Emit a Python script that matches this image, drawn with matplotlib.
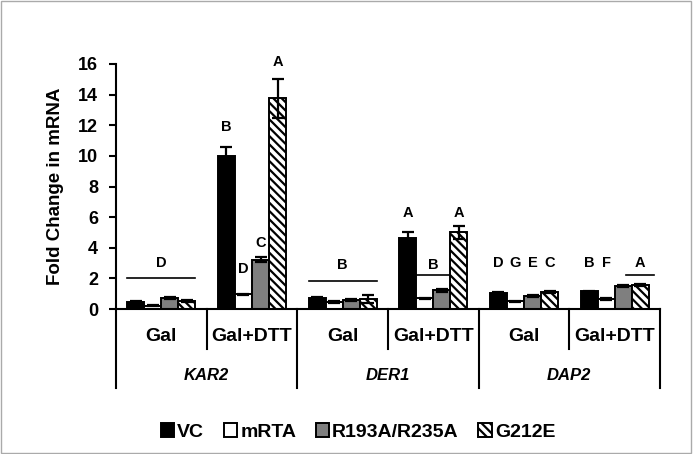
import matplotlib
matplotlib.use("Agg")
import matplotlib.pyplot as plt
import numpy as np
from matplotlib.patches import Rectangle

plt.rcParams['font.family'] = ['Liberation Sans', 'DejaVu Sans']
plt.rcParams['font.weight'] = 'bold'
plt.rcParams['hatch.linewidth'] = 1.6

conditions = ["Gal", "Gal+DTT", "Gal", "Gal+DTT", "Gal", "Gal+DTT"]
genes = ["KAR2", "DER1", "DAP2"]
series = ["VC", "mRTA", "R193A/R235A", "G212E"]

vc = [0.45, 10.0, 0.75, 4.62, 1.05, 1.15]
mrta = [0.22, 0.95, 0.45, 0.70, 0.50, 0.65]
r193a = [0.70, 3.22, 0.60, 1.22, 0.85, 1.50]
g212e = [0.50, 13.75, 0.65, 5.0, 1.12, 1.58]

vc_err = [0.05, 0.6, 0.05, 0.42, 0.04, 0.04]
mrta_err = [0.03, 0.05, 0.04, 0.05, 0.04, 0.04]
r193a_err = [0.06, 0.15, 0.05, 0.08, 0.05, 0.05]
g212e_err = [0.06, 1.3, 0.25, 0.45, 0.08, 0.05]

# significance letters: (category index, series index, text, y)
letters_single = [
    (1, 0, "B", 11.9), (1, 1, "D", 2.6), (1, 2, "C", 4.3), (1, 3, "A", 16.1),
    (3, 0, "A", 6.3), (3, 3, "A", 6.3),
    (4, 0, "D", 3.0), (4, 1, "G", 3.0), (4, 2, "E", 3.0), (4, 3, "C", 3.0),
    (5, 0, "B", 3.0), (5, 1, "F", 3.0),
]
# grouped letters with a line: (category, first series, last series, text, line y, text y)
letters_group = [
    (0, 0, 3, "D", 2.0, 3.0),
    (2, 0, 3, "B", 1.85, 2.9),
    (3, 1, 2, "B", 2.2, 2.85),
    (5, 3, 3, "A", 2.25, 3.0),
]

fig = plt.figure(figsize=(6.93, 4.54), dpi=100)
ax = fig.add_axes([116/693, 1-309/454, 544/693, 245/454])

x = np.arange(len(conditions))
w = 0.188
offs = np.array([-1.5, -0.5, 0.5, 1.5]) * w
vals = [vc, mrta, r193a, g212e]
errs = [vc_err, mrta_err, r193a_err, g212e_err]
faces = ["black", "white", "#7f7f7f", "white"]
hatches = [None, None, None, "\\\\\\\\"]

for i in range(4):
    ax.bar(x + offs[i], vals[i], w, color=faces[i], edgecolor="black",
           linewidth=1.4, hatch=hatches[i], label=series[i], zorder=2)
    ax.errorbar(x + offs[i], vals[i], yerr=errs[i], fmt="none", ecolor="black",
                elinewidth=1.6, capsize=4, capthick=1.6, zorder=3)

for ci, si, t, yv in letters_single:
    ax.text(x[ci] + offs[si], yv, t, ha="center", va="center", fontsize=10.5,
            fontweight="bold")
for ci, s0, s1, t, ly, ty in letters_group:
    x0 = x[ci] + offs[s0] - w / 2
    x1 = x[ci] + offs[s1] + w / 2
    if s0 == s1:
        x0 -= 0.06
        x1 += 0.06
    ax.plot([x0, x1], [ly, ly], color="black", lw=1.2, zorder=3)
    ax.text((x0 + x1) / 2, ty, t, ha="center", va="center", fontsize=10.5,
            fontweight="bold")

ax.set_xlim(-0.5, len(conditions) - 0.5)
ax.set_ylim(0, 16)
ax.set_yticks(np.arange(0, 17, 2))
ax.set_xticks([])
ax.tick_params(axis="y", labelsize=13, width=1.5, length=5, direction="out", pad=8)
for lab in ax.get_yticklabels():
    lab.set_fontweight("bold")
ax.spines["top"].set_visible(False)
ax.spines["right"].set_visible(False)
ax.spines["left"].set_linewidth(1.5)
ax.spines["bottom"].set_linewidth(1.5)
ax.set_ylabel("Fold Change in mRNA", fontsize=13.5, fontweight="bold", labelpad=10)

trans = ax.get_xaxis_transform()
sub_bottom = -40 / 245
grp_bottom = -79 / 245
for b in np.arange(0.5, len(conditions) - 0.5, 1):
    bottom = grp_bottom if int(b + 0.5) % 2 == 0 else sub_bottom
    ax.plot([b, b], [0, bottom], transform=trans, color="black", lw=1.5, clip_on=False)
for b in [-0.5, len(conditions) - 0.5]:
    ax.plot([b, b], [0, grp_bottom], transform=trans, color="black", lw=1.5, clip_on=False)
for i, c in enumerate(conditions):
    ax.text(x[i], -27.5 / 245, c, transform=trans, ha="center", va="center",
            fontsize=14, fontweight="bold")
for g, gname in enumerate(genes):
    ax.text(2 * g + 0.5, -67 / 245, gname, transform=trans, ha="center", va="center",
            fontsize=12, fontweight="bold", style="italic")

leg = fig.legend(loc="center", bbox_to_anchor=(358/693, 1-432/454), ncol=4, frameon=False,
                 handlelength=0.7, handleheight=0.7, handletextpad=0.15,
                 columnspacing=1.0, prop={"weight": "bold", "size": 14})

fig.patches.append(Rectangle((0.002, 0.003), 0.995, 0.994, transform=fig.transFigure,
                             fill=False, edgecolor="#aaaaaa", lw=1))

fig.savefig("out.png", dpi=100)
